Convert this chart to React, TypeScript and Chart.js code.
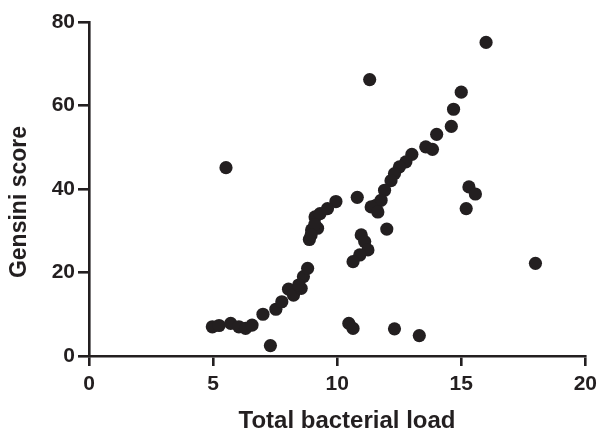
import React, { useEffect, useRef } from "react";
import { Chart, registerables } from "chart.js";

Chart.register(...registerables);

const bacterialLoad: number[] = [
  16.0, 11.31, 5.52, 15.0, 14.69, 14.6, 14.01, 13.57, 13.84, 13.01,
  12.77, 12.51, 12.31, 12.17, 11.91, 11.77, 11.57, 11.37, 11.64, 10.81,
  9.95, 15.31, 15.57, 15.2, 12.0, 10.97, 11.11, 11.24, 10.91, 10.64,
  17.99, 10.47, 10.64, 12.31, 13.31, 4.97, 5.24, 5.71, 6.04, 6.31,
  6.57, 7.01, 7.31, 7.53, 7.77, 8.04, 8.24, 8.55, 8.64, 8.81,
  8.88, 8.97, 9.21, 9.11, 9.31, 9.61, 9.1, 8.95, 8.45,
];
const gensiniScore: number[] = [
  75.1, 66.2, 45.1, 63.2, 59.1, 55.0, 53.1, 50.1, 49.5, 48.3,
  46.5, 45.3, 43.7, 42.0, 39.7, 37.3, 36.1, 35.7, 34.5, 38.0,
  37.0, 40.5, 38.8, 35.3, 30.4, 29.0, 27.4, 25.4, 24.2, 22.6,
  22.2, 7.8, 6.6, 6.5, 4.9, 7.0, 7.3, 7.8, 7.0, 6.6,
  7.4, 10.0, 2.5, 11.2, 13.0, 16.0, 14.6, 16.2, 19.0, 21.0,
  27.9, 30.2, 30.6, 33.3, 34.1, 35.3, 31.5, 29.0, 17.0,
];
const xTicks: number[] = [0, 5, 10, 15, 20];
const yTicks: number[] = [0, 20, 40, 60, 80];
const xTitle = "Total bacterial load";
const yTitle = "Gensini score";

const INK = "#231f20";
const FONT = "'Liberation Sans', Arial, sans-serif";

const titlePlugin = {
  id: "axisTitles",
  afterDraw(chart: any) {
    const ctx = chart.ctx;
    ctx.save();
    ctx.fillStyle = INK;
    ctx.textAlign = "center";
    ctx.textBaseline = "middle";
    ctx.font = `bold 24px ${FONT}`;
    ctx.fillText(xTitle, 347, 421);
    ctx.translate(20, 202);
    ctx.rotate(-Math.PI / 2);
    ctx.font = `bold 23px ${FONT}`;
    ctx.fillText(yTitle, 0, 0);
    ctx.restore();
  },
};

export default function App() {
  const ref = useRef<HTMLCanvasElement | null>(null);
  useEffect(() => {
    if (!ref.current) return;
    const points = bacterialLoad.map((x, i) => ({ x, y: gensiniScore[i] }));
    const chart = new Chart(ref.current, {
      type: "scatter",
      data: {
        datasets: [
          {
            data: points,
            backgroundColor: INK,
            borderWidth: 0,
            pointRadius: 6.6,
            pointHoverRadius: 6.6,
          },
        ],
      },
      options: {
        animation: false,
        responsive: false,
        maintainAspectRatio: false,
        layout: { padding: { top: 22, right: 14, left: 0, bottom: 0 } },
        plugins: { legend: { display: false }, tooltip: { enabled: false } },
        scales: {
          x: {
            type: "linear",
            min: 0,
            max: 20,
            afterBuildTicks: (s: any) => {
              s.ticks = xTicks.map((v) => ({ value: v }));
            },
            afterFit: (s: any) => {
              s.height = 75;
            },
            border: { display: true, color: INK, width: 2.6 },
            grid: {
              drawOnChartArea: false,
              drawTicks: true,
              tickLength: 10,
              color: INK,
              lineWidth: 2.6,
            },
            ticks: {
              color: INK,
              padding: 6,
              font: { family: FONT, size: 21, weight: "bold" },
            },
          },
          y: {
            type: "linear",
            min: 0,
            max: 80,
            afterBuildTicks: (s: any) => {
              s.ticks = yTicks.map((v) => ({ value: v }));
            },
            afterFit: (s: any) => {
              s.width = 89;
            },
            border: { display: true, color: INK, width: 2.6 },
            grid: {
              drawOnChartArea: false,
              drawTicks: true,
              tickLength: 11,
              color: INK,
              lineWidth: 2.6,
            },
            ticks: {
              color: INK,
              padding: 3,
              font: { family: FONT, size: 21, weight: "bold" },
            },
          },
        },
      },
      plugins: [titlePlugin],
    });
    return () => chart.destroy();
  }, []);
  return (
    <div style={{ position: "fixed", left: 0, top: 0, width: 603, height: 431, background: "#fff" }}>
      <canvas ref={ref} width={603} height={431} style={{ width: 603, height: 431, display: "block" }} />
    </div>
  );
}
